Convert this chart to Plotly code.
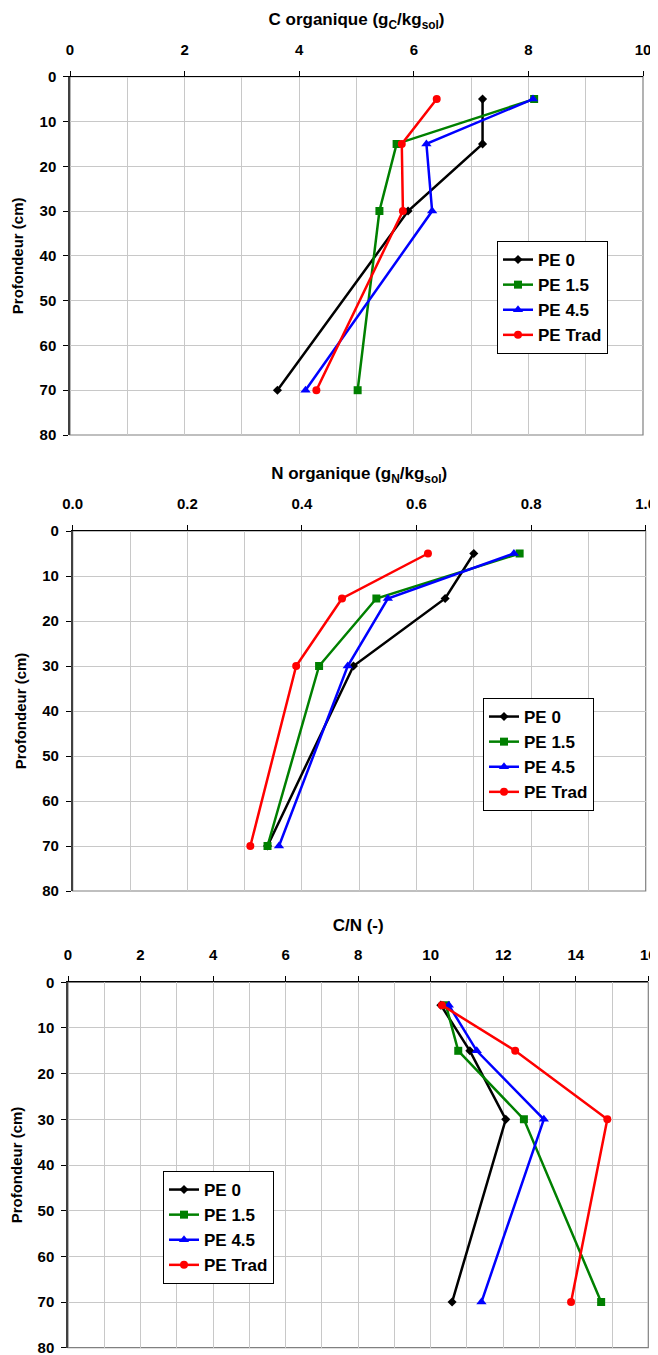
import plotly.graph_objects as go

# page body has an 8px margin; coordinates below are page pixels.
OFF = 8
W, H = 650, 1347

depth = [5, 15, 30, 70]
series_names = ["PE 0", "PE 1.5", "PE 4.5", "PE Trad"]

c_pe0 = [7.2, 7.2, 5.9, 3.62]
c_pe15 = [8.1, 5.7, 5.4, 5.02]
c_pe45 = [8.08, 6.22, 6.32, 4.11]
c_trad = [6.4, 5.79, 5.81, 4.3]

n_pe0 = [0.70, 0.65, 0.49, 0.34]
n_pe15 = [0.78, 0.53, 0.43, 0.34]
n_pe45 = [0.77, 0.55, 0.48, 0.36]
n_trad = [0.62, 0.47, 0.39, 0.31]

cn_pe0 = [10.28, 11.08, 12.07, 10.59]
cn_pe15 = [10.42, 10.76, 12.57, 14.70]
cn_pe45 = [10.5, 11.27, 13.12, 11.4]
cn_trad = [10.31, 12.33, 14.87, 13.87]

panel_titles = ["C organique (g<sub>C</sub>/kg<sub>sol</sub>)",
                "N organique (g<sub>N</sub>/kg<sub>sol</sub>)",
                "C/N (-)"]
x_ranges = [[0, 10], [0, 1.0], [0, 16]]
x_major = [2, 0.2, 2]
x_minor = [1, 0.1, 1]
x_fmt = ["d", ".1f", "d"]
y_title = "Profondeur (cm)"

colors = ["#000000", "#008000", "#0000FF", "#FF0000"]
symbols = ["diamond", "square", "triangle-up", "circle"]
msizes = [7, 8, 9, 8]

# plot areas in page pixels: (left, right, top, bottom)
areas = [(70, 643, 76.7, 435), (72.7, 645.7, 531, 891), (68, 648.3, 982.3, 1347.7)]
legend_pos = [(497, 241), (483, 698), (163, 1171)]

def px(x):
    return (x - OFF) / W

def py(y):
    return max(0.0, 1 - (y - OFF) / H)

data_sets = [
    [c_pe0, c_pe15, c_pe45, c_trad],
    [n_pe0, n_pe15, n_pe45, n_trad],
    [cn_pe0, cn_pe15, cn_pe45, cn_trad],
]

fig = go.Figure()
font_family = "Liberation Sans, Arial, sans-serif"
layout = dict(
    width=W, height=H,
    margin=dict(l=0, r=0, t=0, b=0),
    paper_bgcolor="white", plot_bgcolor="white",
    font=dict(family=font_family, size=15, color="black", weight="bold"),
    showlegend=True,
)

for i in range(3):
    k = "" if i == 0 else str(i + 1)
    leg = "legend" + k
    for j in range(4):
        fig.add_trace(go.Scatter(
            x=data_sets[i][j], y=depth, name=series_names[j],
            mode="lines+markers",
            line=dict(color=colors[j], width=2.5),
            marker=dict(symbol=symbols[j], size=msizes[j], color=colors[j]),
            xaxis="x" + k, yaxis="y" + k, legend=leg,
        ))
    l, r, t, b = areas[i]
    layout["xaxis" + k] = dict(
        domain=[px(l), px(r)], anchor="y" + k, side="top",
        range=x_ranges[i], dtick=x_major[i], tick0=0, tickformat=x_fmt[i],
        showgrid=True, gridcolor="#c8c8c8", gridwidth=1,
        minor=dict(dtick=x_minor[i], tick0=0, showgrid=True, gridcolor="#c8c8c8", ticklen=0),
        showline=True, linecolor="black", linewidth=1.2,
        ticks="outside", ticklen=5, tickcolor="black",
        ticklabelstandoff=10, ticklabeloverflow="allow",
        tickfont=dict(size=15),
        title=dict(text=panel_titles[i], font=dict(size=17), standoff=10),
        zeroline=False, automargin=False, fixedrange=True,
    )
    layout["yaxis" + k] = dict(
        domain=[py(b), py(t)], anchor="x" + k,
        range=[80, 0], dtick=10, tick0=0,
        showgrid=True, gridcolor="#c8c8c8", gridwidth=1,
        showline=True, linecolor="#404040", linewidth=1.5,
        ticks="outside", ticklen=5, tickcolor="black",
        ticklabelstandoff=4, ticklabeloverflow="allow",
        tickfont=dict(size=15),
        title=dict(text=y_title, font=dict(size=15), standoff=12),
        zeroline=False, automargin=False, fixedrange=True,
    )
    lx, ly = legend_pos[i]
    layout[leg] = dict(
        x=px(lx), y=py(ly), xanchor="left", yanchor="top",
        bgcolor="white", bordercolor="black", borderwidth=1,
        font=dict(size=17, family=font_family, weight="bold"),
        itemwidth=30, tracegroupgap=0,
    )
    fig.add_shape(type="rect", xref="x" + k + " domain", yref="y" + k + " domain",
                  x0=0, x1=1, y0=0, y1=1, line=dict(color="#808080", width=1.2),
                  layer="below")

fig.update_layout(**layout)
fig.write_html("out.html")
